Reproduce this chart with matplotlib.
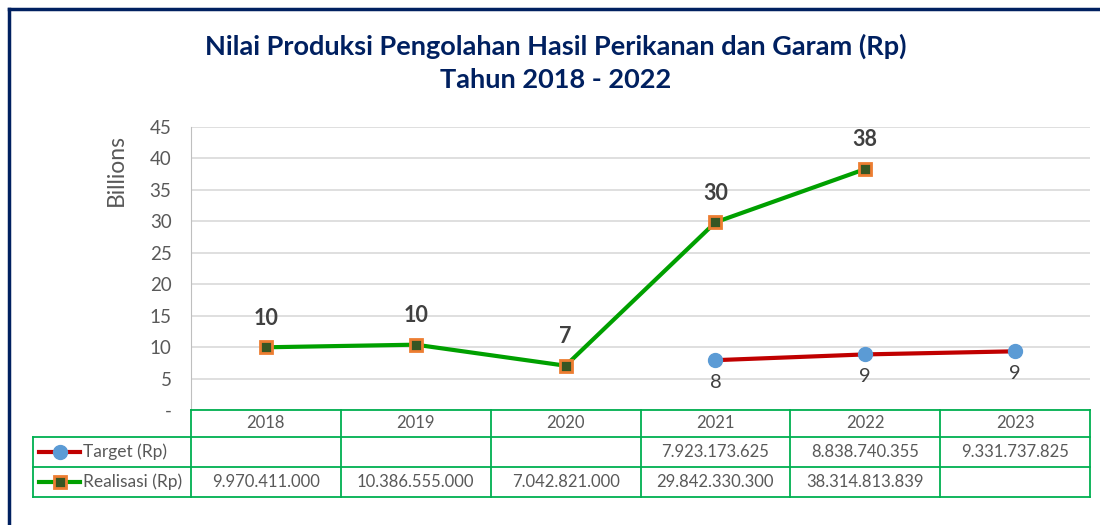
import numpy as np
import matplotlib
matplotlib.use("Agg")
import matplotlib.pyplot as plt
from matplotlib.lines import Line2D

# ---------------- data ----------------
years = ["2018", "2019", "2020", "2021", "2022", "2023"]
target_rp = [None, None, None, 7923173625, 8838740355, 9331737825]
realisasi_rp = [9970411000, 10386555000, 7042821000, 29842330300, 38314813839, None]
series_names = ["Target (Rp)", "Realisasi (Rp)"]
y_ticks = [0, 5, 10, 15, 20, 25, 30, 35, 40, 45]
y_tick_labels = ["-", "5", "10", "15", "20", "25", "30", "35", "40", "45"]
title_lines = ["Nilai Produksi Pengolahan Hasil Perikanan dan Garam (Rp)", "Tahun 2018 - 2022"]

FONT = ["Lato", "DejaVu Sans"]
plt.rcParams["font.family"] = FONT

W, H = 1100, 525
fig = plt.figure(figsize=(W / 100, H / 100), dpi=100)


def fx(px):
    return px / W


def fy(py):
    return 1 - py / H


# navy outer border
fig.add_artist(Line2D([fx(9), fx(9)], [fy(9), fy(530)], color="#002060", lw=2.5))
fig.add_artist(Line2D([fx(9), fx(1105)], [fy(9), fy(9)], color="#002060", lw=2.5))

for line, yp in zip(title_lines, [46, 80]):
    fig.text(fx(556), fy(yp), line, ha="center", va="center", fontsize=19.5,
             fontweight="bold", color="#002060")

L, R, T, B = 191, 1090, 127, 410
ax = fig.add_axes([fx(L), fy(B), fx(R) - fx(L), fy(T) - fy(B)])
ax.set_xlim(-0.5, len(years) - 0.5)
ax.set_ylim(0, 45)
ax.set_yticks(y_ticks)
ax.set_yticklabels(y_tick_labels, color="#595959", fontsize=13.5)
ax.set_xticks([])
ax.tick_params(axis="y", length=0, pad=14)
for s in ["top", "right", "bottom"]:
    ax.spines[s].set_visible(False)
ax.spines["left"].set_color("#BFBFBF")
ax.grid(axis="y", color="#D9D9D9", lw=1.2)
ax.set_axisbelow(True)
fig.text(fx(116), fy(170), "Billions", rotation=90, ha="center", va="center",
         color="#595959", fontsize=16.5)

x = np.arange(len(years))
tv = np.array([np.nan if v is None else v / 1e9 for v in target_rp])
rv = np.array([np.nan if v is None else v / 1e9 for v in realisasi_rp])

red_kw = dict(color="#C00000", lw=3, marker="o", markersize=10,
              markerfacecolor="#5B9BD5", markeredgecolor="#5B9BD5")
grn_kw = dict(color="#00A000", lw=3, marker="s", markersize=9,
              markerfacecolor="#375623", markeredgecolor="#ED7D31", markeredgewidth=2)
ax.plot(x, tv, **red_kw, zorder=3)
ax.plot(x, rv, **grn_kw, zorder=3)

for xi, v in zip(x, rv):
    if not np.isnan(v):
        ax.annotate(f"{round(v):d}", (xi, v), xytext=(0, 21), textcoords="offset points",
                    ha="center", va="center", fontsize=15.5, fontweight="bold", color="#404040")
for xi, v in zip(x, tv):
    if not np.isnan(v):
        ax.annotate(f"{round(v):d}", (xi, v), xytext=(0, -16), textcoords="offset points",
                    ha="center", va="center", fontsize=14.5, color="#404040")

# ---------------- data table ----------------
GC = "#00B050"
TL = 33
row_y = [410, 437, 467, 497]
col_x = [L + i * (R - L) / len(years) for i in range(len(years) + 1)]


def hline(x0, x1, y):
    fig.add_artist(Line2D([fx(x0), fx(x1)], [fy(y), fy(y)], color=GC, lw=1.3))


def vline(xp, y0, y1):
    fig.add_artist(Line2D([fx(xp), fx(xp)], [fy(y0), fy(y1)], color=GC, lw=1.3))


hline(L, R, row_y[0])
hline(TL, R, row_y[1])
hline(TL, R, row_y[2])
hline(TL, R, row_y[3])
vline(TL, row_y[1], row_y[3])
for cx in col_x:
    vline(cx, row_y[0], row_y[3])


def fmt(v):
    return "" if v is None else f"{v:,d}".replace(",", ".")


tcol = "#595959"
for i, yr in enumerate(years):
    cx = (col_x[i] + col_x[i + 1]) / 2
    fig.text(fx(cx), fy((row_y[0] + row_y[1]) / 2), yr, ha="center", va="center",
             fontsize=12, color=tcol)
    fig.text(fx(cx), fy((row_y[1] + row_y[2]) / 2), fmt(target_rp[i]), ha="center",
             va="center", fontsize=12, color=tcol)
    fig.text(fx(cx), fy((row_y[2] + row_y[3]) / 2), fmt(realisasi_rp[i]), ha="center",
             va="center", fontsize=12, color=tcol)

# legend keys
for name, kw, (y0, y1) in zip(series_names, [red_kw, grn_kw],
                              [(row_y[1], row_y[2]), (row_y[2], row_y[3])]):
    yc = fy((y0 + y1) / 2)
    fig.add_artist(Line2D([fx(39), fx(80)], [yc, yc], color=kw["color"], lw=kw["lw"]))
    mk = {k: v for k, v in kw.items() if k.startswith("marker")}
    fig.add_artist(Line2D([fx(59.5)], [yc], linestyle="none", **mk))
    fig.text(fx(83), yc, name, ha="left", va="center", fontsize=12.5, color=tcol)

fig.savefig("out.png", dpi=100, facecolor="white")
